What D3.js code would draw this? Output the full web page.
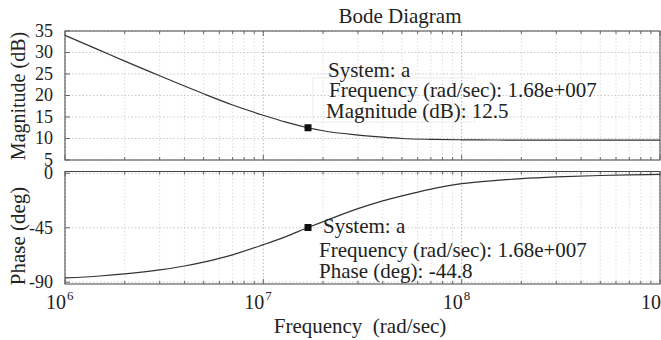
<!DOCTYPE html>
<html><head><meta charset="utf-8">
<script src="https://cdn.jsdelivr.net/npm/d3@7"></script>
<style>body{margin:0;background:#fff}svg{display:block}text{font-family:"Liberation Serif","Times New Roman",serif;fill:#222}</style>
</head><body>
<script>
// Data
const freq = [1e6,1.5e6,2e6,3e6,4e6,5e6,7e6,1e7,1.3e7,1.68e7,2e7,3e7,4e7,5e7,7e7,1e8,1.5e8,2e8,3e8,5e8,7e8,1e9];
const magnitude = [34.0,30.5,28.0,24.6,22.2,20.4,17.8,15.4,13.8,12.5,11.8,10.8,10.3,10.0,9.8,9.7,9.65,9.6,9.6,9.6,9.6,9.6];
const phase = [-86.5,-84.9,-83.2,-79.9,-76.6,-73.4,-67.4,-59.0,-52.3,-44.8,-40.0,-29.2,-22.8,-18.6,-13.0,-8.5,-5.8,-4.4,-3.0,-1.8,-1.3,-0.9];
const magTicks = [5,10,15,20,25,30,35];
const phaseTicks = [-90,-45,0];
const decadeTicks = [1e6,1e7,1e8,1e9];
const tipFreq = 1.68e7, tipMag = 12.5, tipPhase = -44.8;
const magTip = ["System: a", "Frequency (rad/sec): 1.68e+007", "Magnitude (dB): 12.5"];
const phaseTip = ["System: a", "Frequency (rad/sec): 1.68e+007", "Phase (deg): -44.8"];

const W = 661, H = 340;
const svg = d3.select("body").append("svg").attr("width", W).attr("height", H);
const x = d3.scaleLog().domain([1e6, 1e9]).range([65, 660]);
const yMag = d3.scaleLinear().domain([5, 35]).range([160, 31]);
const yPh = d3.scaleLinear().domain([-91.5, 1.5]).range([284, 171.5]);

const minor = [];
for (let e = 6; e < 9; e++) for (let m = 2; m <= 9; m++) minor.push(m * Math.pow(10, e));

function panel(y, ticks, values, tipVal) {
  const [y0, y1] = y.range();
  const g = svg.append("g");
  g.selectAll("line.vg").data(minor).join("line")
    .attr("x1", d => x(d)).attr("x2", d => x(d)).attr("y1", y1).attr("y2", y0)
    .attr("stroke", "#d4d4d4").attr("stroke-width", 0.8).attr("stroke-dasharray", "1.5,2");
  g.selectAll("line.vd").data(decadeTicks).join("line")
    .attr("x1", d => x(d)).attr("x2", d => x(d)).attr("y1", y1).attr("y2", y0)
    .attr("stroke", "#b0b0b0").attr("stroke-width", 0.9).attr("stroke-dasharray", "1.5,2");
  g.selectAll("line.hg").data(ticks).join("line")
    .attr("x1", x.range()[0]).attr("x2", x.range()[1]).attr("y1", d => y(d)).attr("y2", d => y(d))
    .attr("stroke", "#bdbdbd").attr("stroke-width", 0.8).attr("stroke-dasharray", "1.5,2");
  g.append("rect").attr("x", x.range()[0]).attr("y", y1).attr("width", x.range()[1] - x.range()[0]).attr("height", y0 - y1)
    .attr("fill", "none").attr("stroke", "#444").attr("stroke-width", 1);
  const tx = minor.map(d => ({ d, l: 3 })).concat(decadeTicks.map(d => ({ d, l: 5 })));
  g.selectAll("line.tb").data(tx).join("line")
    .attr("x1", d => x(d.d)).attr("x2", d => x(d.d)).attr("y1", y0).attr("y2", d => y0 - d.l).attr("stroke", "#666");
  g.selectAll("line.tt").data(tx).join("line")
    .attr("x1", d => x(d.d)).attr("x2", d => x(d.d)).attr("y1", y1).attr("y2", d => y1 + d.l).attr("stroke", "#666");
  g.selectAll("line.ty").data(ticks).join("line")
    .attr("x1", x.range()[0]).attr("x2", x.range()[0] + 5).attr("y1", d => y(d)).attr("y2", d => y(d)).attr("stroke", "#666");
  g.selectAll("text.yl").data(ticks).join("text")
    .attr("x", 53).attr("y", d => y(d)).attr("dy", "0.33em").attr("text-anchor", "end")
    .attr("font-size", 18).text(d => d);
  g.append("path").datum(freq.map((f, i) => [f, values[i]]))
    .attr("d", d3.line().x(d => x(d[0])).y(d => y(d[1])).curve(d3.curveMonotoneX))
    .attr("fill", "none").attr("stroke", "#333").attr("stroke-width", 1.2);
  g.append("rect").attr("x", x(tipFreq) - 3.5).attr("y", y(tipVal) - 3.5).attr("width", 7).attr("height", 7).attr("fill", "#111");
  return g;
}
panel(yMag, magTicks, magnitude, tipMag);
panel(yPh, phaseTicks, phase, tipPhase);

function tip(lines, xs, ys) {
  const g = svg.append("g");
  lines.forEach((t, i) => g.append("text").attr("x", xs[i]).attr("y", ys[i]).attr("font-size", 21).text(t));
}
svg.append("rect").attr("x", 313).attr("y", 78).attr("width", 162).attr("height", 44).attr("fill", "none").attr("stroke", "#ececec");
tip(magTip, [328, 329, 326], [77, 97, 118]);
tip(phaseTip, [323, 319, 319], [233, 257, 278]);

const xl = svg.append("g");
decadeTicks.forEach(d => {
  const e = Math.round(Math.log10(d));
  xl.append("text").attr("x", x(d) + 1).attr("y", 309).attr("text-anchor", "end").attr("font-size", 20).text("10");
  xl.append("text").attr("x", x(d) + 2).attr("y", 300).attr("font-size", 13).text(e);
});

svg.append("text").attr("x", 400).attr("y", 23).attr("text-anchor", "middle").attr("font-size", 21).text("Bode Diagram");
svg.append("text").attr("x", 360).attr("y", 333).attr("text-anchor", "middle").attr("font-size", 21).attr("xml:space", "preserve").text("Frequency  (rad/sec)");
svg.append("text").attr("transform", "translate(25,96) rotate(-90)").attr("text-anchor", "middle").attr("font-size", 20).text("Magnitude (dB)");
svg.append("text").attr("transform", "translate(25,236) rotate(-90)").attr("text-anchor", "middle").attr("font-size", 21).text("Phase (deg)");
</script>
</body></html>
